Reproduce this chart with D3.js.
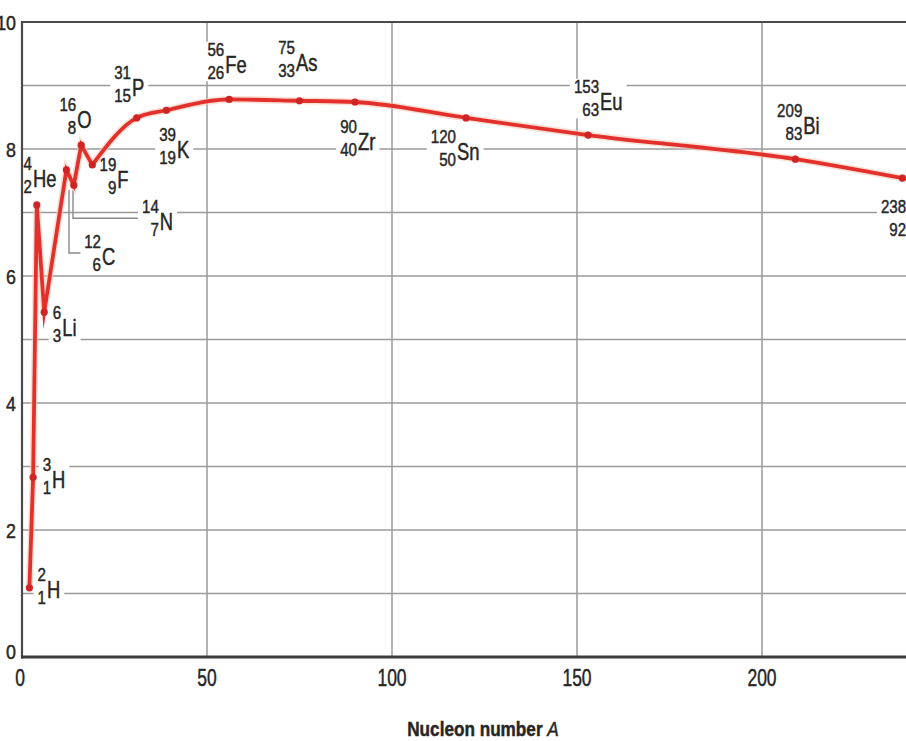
<!DOCTYPE html>
<html>
<head>
<meta charset="utf-8">
<script src="https://cdn.jsdelivr.net/npm/d3@7"></script>
<style>
  html, body { margin: 0; padding: 0; background: #ffffff; }
  svg { display: block; }
  .lbl { font-family: "Liberation Sans", Arial, "DejaVu Sans", sans-serif; fill: #262626; stroke: #262626; stroke-width: 0.45; }
</style>
</head>
<body>
<svg id="chart" width="906" height="741"></svg>
<script>
// Binding energy per nucleon (MeV) against nucleon number A
const massNumbers   = [2, 3, 4, 6, 12, 14, 16, 19, 31, 39, 56, 75, 90, 120, 153, 209, 238];
const atomicNumbers = [1, 1, 2, 3, 6, 7, 8, 9, 15, 19, 26, 33, 40, 50, 63, 83, 92];
const symbols       = ["H", "H", "He", "Li", "C", "N", "O", "F", "P", "K", "Fe", "As", "Zr", "Sn", "Eu", "Bi", "U"];
const bindingEnergy = [1.09, 2.83, 7.12, 5.43, 7.67, 7.43, 8.06, 7.75, 8.49, 8.61, 8.78, 8.76, 8.74, 8.49, 8.22, 7.84, 7.54];

const xTicks = [0, 50, 100, 150, 200];
const yTicks = [0, 2, 4, 6, 8, 10];
const yGrid  = [1, 2, 3, 4, 5, 6, 7, 8, 9];
const xLabel = "Nucleon number ";
const xLabelVar = "A";

// label placement: offset of the element symbol from its point, in px
const labelOffsets = [
  [17.6, 10], [19, 11], [-3.8, -18], [18, 24], [35.6, 95], [86, 45], [-4, -17], [25, 23],
  [-4.7, -22], [10.7, 48], [-4, -26.5], [-3.5, -30], [3, 48], [-9, 42], [12, -25], [8, -25], [4.5, 52]
];

const svg = d3.select("#chart");
const x = d3.scaleLinear().domain([0, 240]).range([22, 910]);
const y = d3.scaleLinear().domain([0, 10]).range([657, 22]);

const fontNum = 18, fontSym = 23, squeezeNum = 0.84, squeezeSym = 0.8;

// condensed text: a plain face squeezed horizontally
function condText(parent, tx, ty, str, size, anchor, sx) {
  const g = parent.append("g").attr("transform", `translate(${tx},${ty}) scale(${sx},1)`);
  return g.append("text").attr("x", 0).attr("y", 0)
    .attr("text-anchor", anchor || "start").attr("font-size", size).text(str);
}

// gridlines
const grid = svg.append("g");
grid.selectAll("line.h").data(yGrid).join("line")
  .attr("x1", x(0)).attr("x2", 906)
  .attr("y1", d => y(d)).attr("y2", d => y(d))
  .attr("stroke", "#9a9a9a").attr("stroke-width", 1.5);
grid.selectAll("line.v").data(xTicks.filter(d => d > 0)).join("line")
  .attr("x1", d => x(d)).attr("x2", d => x(d))
  .attr("y1", y(10)).attr("y2", y(0))
  .attr("stroke", "#9a9a9a").attr("stroke-width", 1.5);

const pts = massNumbers.map((a, i) => ({
  A: a, Z: atomicNumbers[i], sym: symbols[i], be: bindingEnergy[i],
  px: x(a), py: y(bindingEnergy[i]),
  dx: labelOffsets[i][0], dy: labelOffsets[i][1]
}));

const bgLayer = svg.append("g");
const frame = svg.append("g");
const leaderLayer = svg.append("g");
const curveLayer = svg.append("g");
const textLayer = svg.append("g");

// isotope labels: mass number above, atomic number below, symbol to the right
pts.forEach(p => {
  const g = textLayer.append("g").attr("class", "lbl")
    .attr("transform", `translate(${p.px + p.dx},${p.py + p.dy})`);
  condText(g, -1, -17, p.A, fontNum, "end", squeezeNum);
  condText(g, -1, 6, p.Z, fontNum, "end", squeezeNum);
  condText(g, 0, 0, p.sym, fontSym, "start", squeezeSym);
  const bb = g.node().getBBox();
  bgLayer.append("rect")
    .attr("x", p.px + p.dx + bb.x - 4).attr("y", p.py + p.dy + bb.y + 2)
    .attr("width", bb.width + 8).attr("height", bb.height - 4)
    .attr("fill", "#ffffff");
});

// axes frame
frame.append("line").attr("x1", x(0)).attr("x2", 906).attr("y1", y(10)).attr("y2", y(10))
  .attr("stroke", "#4a4a4a").attr("stroke-width", 2.2);
frame.append("line").attr("x1", x(0)).attr("x2", x(0)).attr("y1", y(10) - 1).attr("y2", y(0) + 1.5)
  .attr("stroke", "#4a4a4a").attr("stroke-width", 2.2);
frame.append("line").attr("x1", x(0) - 1).attr("x2", 906).attr("y1", y(0)).attr("y2", y(0))
  .attr("stroke", "#3c3c3c").attr("stroke-width", 3);

// leader lines for carbon and nitrogen
const pC = pts[4], pN = pts[5];
leaderLayer.append("path")
  .attr("d", `M${pC.px + 2.6},${pC.py + 20} V${pC.py + 83} H${pC.px + 14}`)
  .attr("fill", "none").attr("stroke", "#8a8a8a").attr("stroke-width", 1.4);
leaderLayer.append("path")
  .attr("d", `M${pN.px - 0.8},${pN.py + 5} V${pN.py + 33} H${pN.px + 64}`)
  .attr("fill", "none").attr("stroke", "#8a8a8a").attr("stroke-width", 1.4);

// the curve: straight segments through the light nuclei, smooth from fluorine on
const split = symbols.indexOf("F");
const lightPts = pts.slice(0, split + 1);
const heavyPts = pts.slice(split);
const lin = d3.line().x(d => d.px).y(d => d.py).curve(d3.curveLinear);
const smooth = d3.line().x(d => d.px).y(d => d.py).curve(d3.curveMonotoneX);

[[lin(lightPts), "miter"], [smooth(heavyPts), "round"]].forEach(([d, join]) => {
  curveLayer.append("path").attr("d", d).attr("fill", "none")
    .attr("stroke", "#f7c9b8").attr("stroke-width", 7).attr("stroke-linejoin", join)
    .attr("opacity", 0.6);
});
[[lin(lightPts), "miter"], [smooth(heavyPts), "round"]].forEach(([d, join]) => {
  curveLayer.append("path").attr("d", d).attr("fill", "none")
    .attr("stroke", "#e2312c").attr("stroke-width", 3.8)
    .attr("stroke-linejoin", join).attr("stroke-miterlimit", 10);
});
curveLayer.selectAll("circle").data(pts).join("circle")
  .attr("cx", d => d.px).attr("cy", d => d.py).attr("r", 3.6)
  .attr("fill", "#cf2424");

// tick labels
const yt = textLayer.append("g").attr("class", "lbl");
yTicks.forEach(d => condText(yt, 16, y(d) + 7.5 - (d === 0 ? 6 : 0), d, 21, "end", 0.85));
const xt = textLayer.append("g").attr("class", "lbl");
xTicks.forEach(d => condText(xt, x(d) - (d === 0 ? 2 : 0), 686, d, 23, "middle", 0.76));

// axis title
const tg = textLayer.append("g").attr("class", "lbl")
  .attr("transform", "translate(483,736) scale(0.88,1)");
const title = tg.append("text").attr("x", 0).attr("y", 0).attr("text-anchor", "middle")
  .attr("font-size", 19.5).attr("font-weight", "bold");
title.append("tspan").text(xLabel);
title.append("tspan").attr("font-style", "italic").attr("font-weight", "normal").text(xLabelVar);
</script>
</body>
</html>
